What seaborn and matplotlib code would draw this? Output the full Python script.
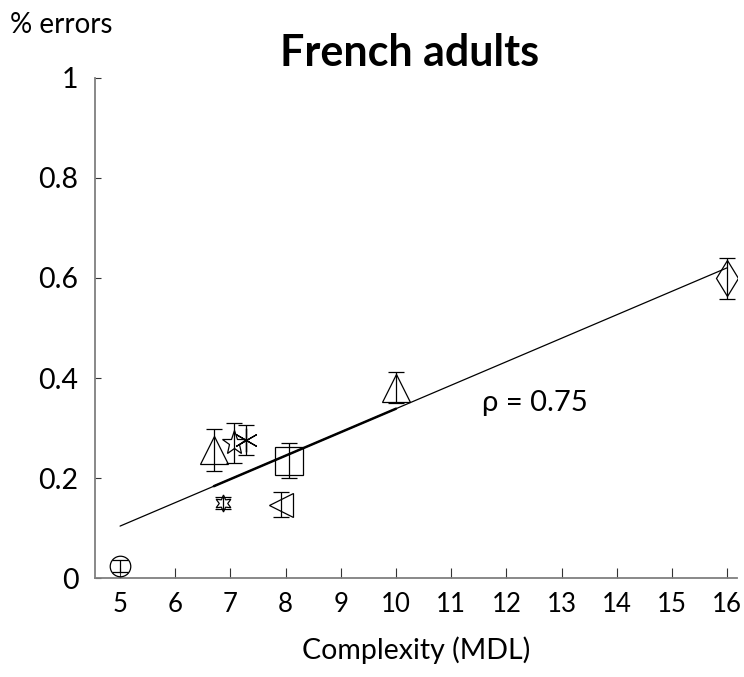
import numpy as np
import pandas as pd
import matplotlib
matplotlib.use("Agg")
import matplotlib.pyplot as plt
import seaborn as sns

# Mean error rate per sequence type against its MDL complexity
complexity = [5.0, 6.7, 7.07, 7.29, 6.86, 7.92, 8.06, 10.0, 16.0]
error_rate = [0.025, 0.257, 0.270, 0.276, 0.150, 0.147, 0.235, 0.381, 0.599]
error_sem = [0.012, 0.042, 0.040, 0.030, 0.012, 0.025, 0.035, 0.031, 0.041]
shapes = ["o", "^", "*", (6, 2, 0), (6, 1, 0), "<", "s", "^", "d"]
shape_sizes = [14.8, 20, 18.2, 17, 12.2, 16.7, 19.5, 19.5, 18.4]

x_ticks = list(range(5, 17))
y_ticks = [0, 0.2, 0.4, 0.6, 0.8, 1]
y_ticklabels = ["0", "0.2", "0.4", "0.6", "0.8", "1"]
rho_label = "ρ = 0.75"

sns.set_style("ticks")
plt.rcParams["font.family"] = ["Lato", "DejaVu Sans"]
plt.rcParams["text.color"] = "black"
plt.rcParams["axes.labelcolor"] = "black"
plt.rcParams["xtick.labelcolor"] = "black"
plt.rcParams["ytick.labelcolor"] = "black"

df = pd.DataFrame({"complexity": complexity, "error": error_rate})

fig = plt.figure(figsize=(7.44, 6.77), dpi=100)
ax = fig.add_axes([0.128, 0.146, 0.862, 0.739])

# least-squares fit across all sequence types
sns.regplot(data=df, x="complexity", y="error", scatter=False, ci=None,
            color="black", line_kws={"lw": 0.9}, ax=ax)

# the fit is drawn a second time over the middle cluster, giving a heavier stroke
slope, intercept = np.polyfit(complexity, error_rate, 1)
mid = np.array([min(complexity[1:7]), complexity[7]])
ax.plot(mid, intercept + slope * mid, color="black", lw=1.8, zorder=2)

for x, y, e, m, ms in zip(complexity, error_rate, error_sem, shapes, shape_sizes):
    ax.errorbar(x, y, yerr=e, fmt="none", ecolor="black", elinewidth=0.9,
                capsize=5.5, capthick=0.9, zorder=4)
    ax.plot([x], [y], linestyle="none", marker=m, markersize=ms,
            markerfacecolor="none", markeredgecolor="black",
            markeredgewidth=0.9, color="black", zorder=3)

ax.text(11.55, 0.35, rho_label, fontsize=21, va="center", ha="left")

ax.set_xlim(4.55, 16.17)
ax.set_ylim(0, 1)
ax.set_xticks(x_ticks)
ax.set_xticklabels([str(t) for t in x_ticks], fontsize=18.5)
ax.set_yticks(y_ticks)
ax.set_yticklabels(y_ticklabels, fontsize=20.5)
ax.tick_params(axis="both", direction="in", length=7, width=0.8, color="#333333", pad=10)
ax.tick_params(axis="y", length=4, pad=12)

for side in ["top", "right"]:
    ax.spines[side].set_visible(False)
for side in ["left", "bottom"]:
    ax.spines[side].set_color("#7f7f7f")
    ax.spines[side].set_linewidth(1.3)

ax.set_xlabel("Complexity (MDL)", fontsize=20.5, labelpad=14)
ax.set_ylabel("")
fig.text(0.014, 0.963, "% errors", fontsize=20, ha="left", va="center")
fig.text(0.551, 0.921, "French adults", fontsize=31, fontweight="bold",
         ha="center", va="center")

fig.savefig("out.png", dpi=100)
